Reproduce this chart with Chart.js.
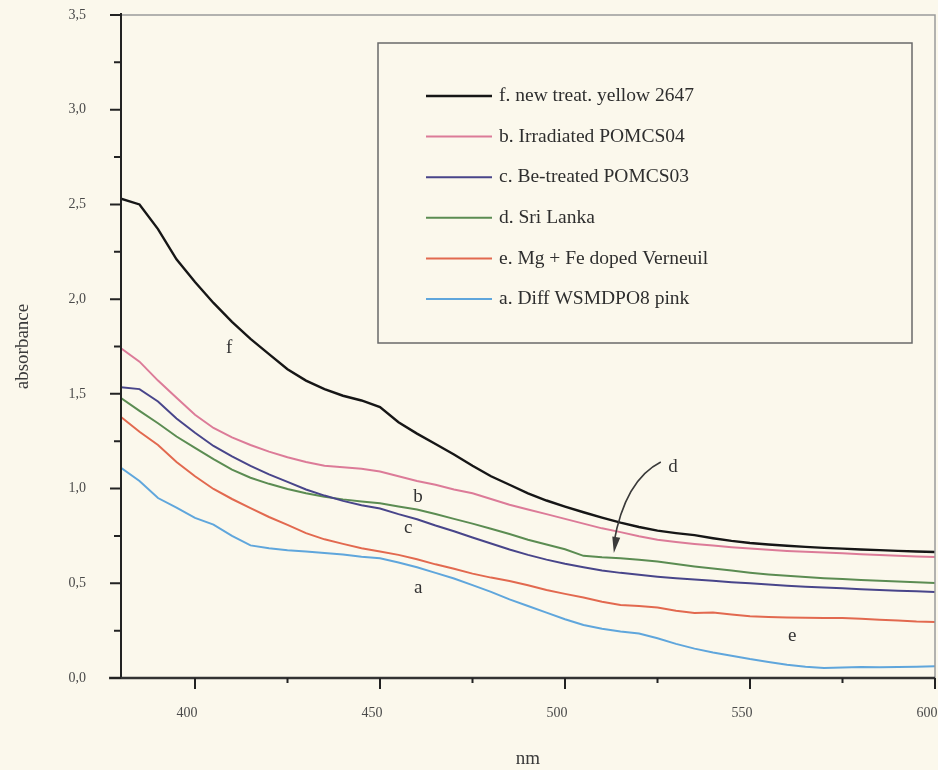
<!DOCTYPE html>
<html>
<head>
<meta charset="utf-8">
<title>absorbance spectra</title>
<script src="https://cdn.jsdelivr.net/npm/chart.js@4.4.1/dist/chart.umd.min.js"></script>
<style>
  html, body { margin: 0; padding: 0; background: #fbf8ec; }
  canvas { display: block; }
</style>
</head>
<body>
<canvas id="chart" width="938" height="770"></canvas>
<script>
// Wavelength grid (nm)
const wavelengths = [380,385,390,395,400,405,410,415,420,425,430,435,440,445,450,455,460,465,470,475,
  480,485,490,495,500,505,510,515,520,525,530,535,540,545,550,555,560,565,570,575,580,585,590,595,600];

// Absorbance of each sample
const absF = [2.53,2.50,2.37,2.21,2.09,1.98,1.88,1.79,1.71,1.63,1.57,1.525,1.49,1.465,1.43,1.35,1.29,1.235,1.18,1.12,
  1.065,1.02,0.975,0.937,0.905,0.875,0.847,0.82,0.797,0.778,0.765,0.754,0.738,0.724,0.713,0.705,0.698,0.692,0.687,0.683,
  0.678,0.675,0.671,0.668,0.665];
const absB = [1.74,1.67,1.57,1.48,1.39,1.32,1.27,1.23,1.195,1.165,1.14,1.12,1.112,1.105,1.09,1.065,1.04,1.02,0.995,0.975,
  0.945,0.915,0.89,0.865,0.84,0.815,0.79,0.77,0.748,0.73,0.718,0.708,0.699,0.69,0.683,0.677,0.671,0.666,0.662,0.659,
  0.653,0.649,0.646,0.642,0.639];
const absC = [1.535,1.525,1.46,1.37,1.295,1.225,1.17,1.12,1.075,1.035,0.995,0.963,0.935,0.912,0.895,0.865,0.838,0.805,0.775,0.742,
  0.71,0.678,0.65,0.625,0.603,0.585,0.568,0.555,0.545,0.535,0.527,0.52,0.513,0.506,0.5,0.493,0.487,0.482,0.478,0.474,
  0.469,0.465,0.461,0.458,0.454];
const absD = [1.478,1.41,1.345,1.275,1.215,1.155,1.10,1.057,1.025,0.998,0.975,0.957,0.943,0.932,0.922,0.905,0.89,0.866,0.84,0.815,
  0.788,0.76,0.73,0.705,0.68,0.645,0.637,0.632,0.624,0.615,0.602,0.589,0.578,0.567,0.556,0.547,0.54,0.533,0.527,0.522,
  0.518,0.513,0.509,0.505,0.502];
const absE = [1.378,1.30,1.23,1.14,1.065,0.998,0.945,0.897,0.85,0.808,0.765,0.732,0.708,0.685,0.668,0.65,0.627,0.60,0.577,0.551,
  0.53,0.512,0.49,0.465,0.444,0.425,0.403,0.385,0.38,0.372,0.355,0.343,0.346,0.335,0.326,0.322,0.32,0.318,0.317,0.317,
  0.313,0.308,0.303,0.298,0.296];
const absA = [1.11,1.04,0.95,0.90,0.845,0.81,0.75,0.70,0.685,0.675,0.668,0.66,0.652,0.64,0.632,0.61,0.585,0.555,0.525,0.49,
  0.455,0.415,0.38,0.345,0.31,0.28,0.26,0.245,0.235,0.21,0.18,0.155,0.135,0.118,0.1,0.085,0.07,0.06,0.053,0.055,
  0.058,0.057,0.058,0.06,0.062];

// Series names, in legend order
const seriesNames = [
  'f. new treat. yellow 2647',
  'b. Irradiated POMCS04',
  'c. Be-treated POMCS03',
  'd. Sri Lanka',
  'e. Mg + Fe doped Verneuil',
  'a. Diff WSMDPO8 pink'
];
const seriesValues = [absF, absB, absC, absD, absE, absA];

// Axis tick values
const xTickValues = [400, 450, 500, 550, 600];
const xMinorTicks = [425, 475, 525, 575];
const yTickValues = [0, 0.5, 1.0, 1.5, 2.0, 2.5, 3.0, 3.5];
const yMinorTicks = [0.25, 0.75, 1.25, 1.75, 2.25, 2.75, 3.25];

// Curve tags placed next to the curves: [text, nm, absorbance]
const curveTags = [
  ['f', 409.2, 1.742],
  ['b', 460.3, 0.956],
  ['c', 457.6, 0.792],
  ['a', 460.3, 0.475],
  ['d', 529.2, 1.114],
  ['e', 561.4, 0.222]
];
// Curved pointer from the "d" tag to its curve: start, control, tip (nm, absorbance)
const pointerD = [[525.9, 1.140], [516.2, 1.045], [513.2, 0.660]];

const lineColors = ['#161616', '#dc7b98', '#48458a', '#5b8c52', '#e2694f', '#5fa6dc'];
const lineWidths = [2.4, 2, 2, 2, 2, 2];
const serif = '"Liberation Serif", "Times New Roman", serif';

const datasets = seriesNames.map((name, i) => ({
  label: name,
  data: wavelengths.map((w, j) => ({ x: w, y: seriesValues[i][j] })),
  borderColor: lineColors[i],
  backgroundColor: lineColors[i],
  borderWidth: lineWidths[i],
  pointRadius: 0,
  tension: 0,
  fill: false
}));

// Paper background
const paperPlugin = {
  id: 'paper',
  beforeDraw(chart) {
    const ctx = chart.ctx;
    ctx.save();
    ctx.fillStyle = '#fbf8ec';
    ctx.fillRect(0, 0, chart.width, chart.height);
    ctx.restore();
  }
};

// Frame, tick marks, legend box, curve tags and the pointer arrow
const decorPlugin = {
  id: 'decor',
  afterDatasetsDraw(chart) {
    const ctx = chart.ctx;
    const area = chart.chartArea;
    const xs = chart.scales.x, ys = chart.scales.y;
    ctx.save();

    // light frame on top and right
    ctx.strokeStyle = '#9a9a9a';
    ctx.lineWidth = 1.5;
    ctx.beginPath();
    ctx.moveTo(area.left, area.top);
    ctx.lineTo(area.right, area.top);
    ctx.lineTo(area.right, area.bottom);
    ctx.stroke();

    // axis lines
    ctx.strokeStyle = '#222';
    ctx.lineWidth = 2;
    ctx.beginPath();
    ctx.moveTo(area.left, area.top - 2);
    ctx.lineTo(area.left, area.bottom);
    ctx.stroke();
    ctx.strokeStyle = '#333';
    ctx.lineWidth = 2.5;
    ctx.beginPath();
    ctx.moveTo(area.left - 12, area.bottom);
    ctx.lineTo(area.right, area.bottom);
    ctx.stroke();

    // y tick marks (outside, to the left)
    ctx.strokeStyle = '#222';
    ctx.lineWidth = 2;
    ctx.beginPath();
    yTickValues.forEach(v => {
      const y = ys.getPixelForValue(v);
      ctx.moveTo(area.left - 11, y); ctx.lineTo(area.left, y);
    });
    yMinorTicks.forEach(v => {
      const y = ys.getPixelForValue(v);
      ctx.moveTo(area.left - 7, y); ctx.lineTo(area.left, y);
    });
    ctx.stroke();

    // x tick marks (outside, below)
    ctx.beginPath();
    xTickValues.forEach(v => {
      const x = xs.getPixelForValue(v);
      ctx.moveTo(x, area.bottom); ctx.lineTo(x, area.bottom + 11);
    });
    xMinorTicks.forEach(v => {
      const x = xs.getPixelForValue(v);
      ctx.moveTo(x, area.bottom); ctx.lineTo(x, area.bottom + 5);
    });
    ctx.stroke();

    // legend box
    const boxL = area.left + 257, boxT = area.top + 28, boxW = 534, boxH = 300;
    ctx.strokeStyle = '#6a6a6a';
    ctx.lineWidth = 1.5;
    ctx.strokeRect(boxL, boxT, boxW, boxH);
    ctx.font = '19.5px ' + serif;
    ctx.textAlign = 'left';
    ctx.textBaseline = 'middle';
    chart.data.datasets.forEach((ds, i) => {
      const y = boxT + 53 + i * 40.6;
      ctx.strokeStyle = ds.borderColor;
      ctx.lineWidth = ds.borderWidth;
      ctx.beginPath();
      ctx.moveTo(boxL + 48, y);
      ctx.lineTo(boxL + 114, y);
      ctx.stroke();
      ctx.fillStyle = '#2e2e2e';
      ctx.fillText(ds.label, boxL + 121, y);
    });

    // curve tags
    ctx.fillStyle = '#333';
    ctx.font = '19px ' + serif;
    ctx.textAlign = 'center';
    ctx.textBaseline = 'middle';
    curveTags.forEach(([t, nm, v]) => {
      ctx.fillText(t, xs.getPixelForValue(nm), ys.getPixelForValue(v));
    });

    // pointer arrow for "d"
    const p = pointerD.map(([nm, v]) => [xs.getPixelForValue(nm), ys.getPixelForValue(v)]);
    ctx.strokeStyle = '#3a3a3a';
    ctx.lineWidth = 1.6;
    ctx.beginPath();
    ctx.moveTo(p[0][0], p[0][1]);
    ctx.quadraticCurveTo(p[1][0], p[1][1], p[2][0], p[2][1] - 10);
    ctx.stroke();
    const ang = Math.atan2(p[2][1] - p[1][1], p[2][0] - p[1][0]);
    ctx.fillStyle = '#3a3a3a';
    ctx.beginPath();
    ctx.moveTo(p[2][0], p[2][1]);
    ctx.lineTo(p[2][0] - 16 * Math.cos(ang) + 4 * Math.sin(ang), p[2][1] - 16 * Math.sin(ang) - 4 * Math.cos(ang));
    ctx.lineTo(p[2][0] - 16 * Math.cos(ang) - 4 * Math.sin(ang), p[2][1] - 16 * Math.sin(ang) + 4 * Math.cos(ang));
    ctx.closePath();
    ctx.fill();

    ctx.restore();
  }
};

new Chart(document.getElementById('chart'), {
  type: 'line',
  data: { datasets },
  plugins: [paperPlugin, decorPlugin],
  options: {
    responsive: false,
    devicePixelRatio: 1,
    animation: false,
    layout: { padding: { top: 15, right: 3, left: 0, bottom: 0 } },
    plugins: {
      legend: { display: false },
      tooltip: { enabled: false }
    },
    scales: {
      x: {
        type: 'linear',
        min: 380,
        max: 600,
        grid: { display: false, drawTicks: false },
        border: { display: false },
        afterBuildTicks(scale) { scale.ticks = xTickValues.map(v => ({ value: v })); },
        afterFit(scale) {
          scale.height = 92;
          scale.paddingLeft = 0;
          scale.paddingRight = 0;
        },
        ticks: {
          padding: 27,
          labelOffset: -8,
          maxRotation: 0,
          color: '#4a4a4a',
          font: { family: serif, size: 14 },
          callback: v => String(v)
        },
        title: {
          display: true,
          text: 'nm',
          color: '#3a3a3a',
          font: { family: serif, size: 19 },
          padding: { top: 10, bottom: 0 }
        }
      },
      y: {
        type: 'linear',
        min: 0,
        max: 3.5,
        grid: { display: false, drawTicks: false },
        border: { display: false },
        afterBuildTicks(scale) { scale.ticks = yTickValues.map(v => ({ value: v })); },
        afterFit(scale) {
          scale.width = 121;
          scale.paddingTop = 0;
          scale.paddingBottom = 0;
        },
        ticks: {
          padding: 35,
          color: '#4a4a4a',
          font: { family: serif, size: 14 },
          callback: v => Number(v).toFixed(1).replace('.', ',')
        },
        title: {
          display: true,
          text: 'absorbance',
          color: '#3a3a3a',
          font: { family: serif, size: 19 },
          padding: { top: 12, bottom: 0 }
        }
      }
    }
  }
});
</script>
</body>
</html>
